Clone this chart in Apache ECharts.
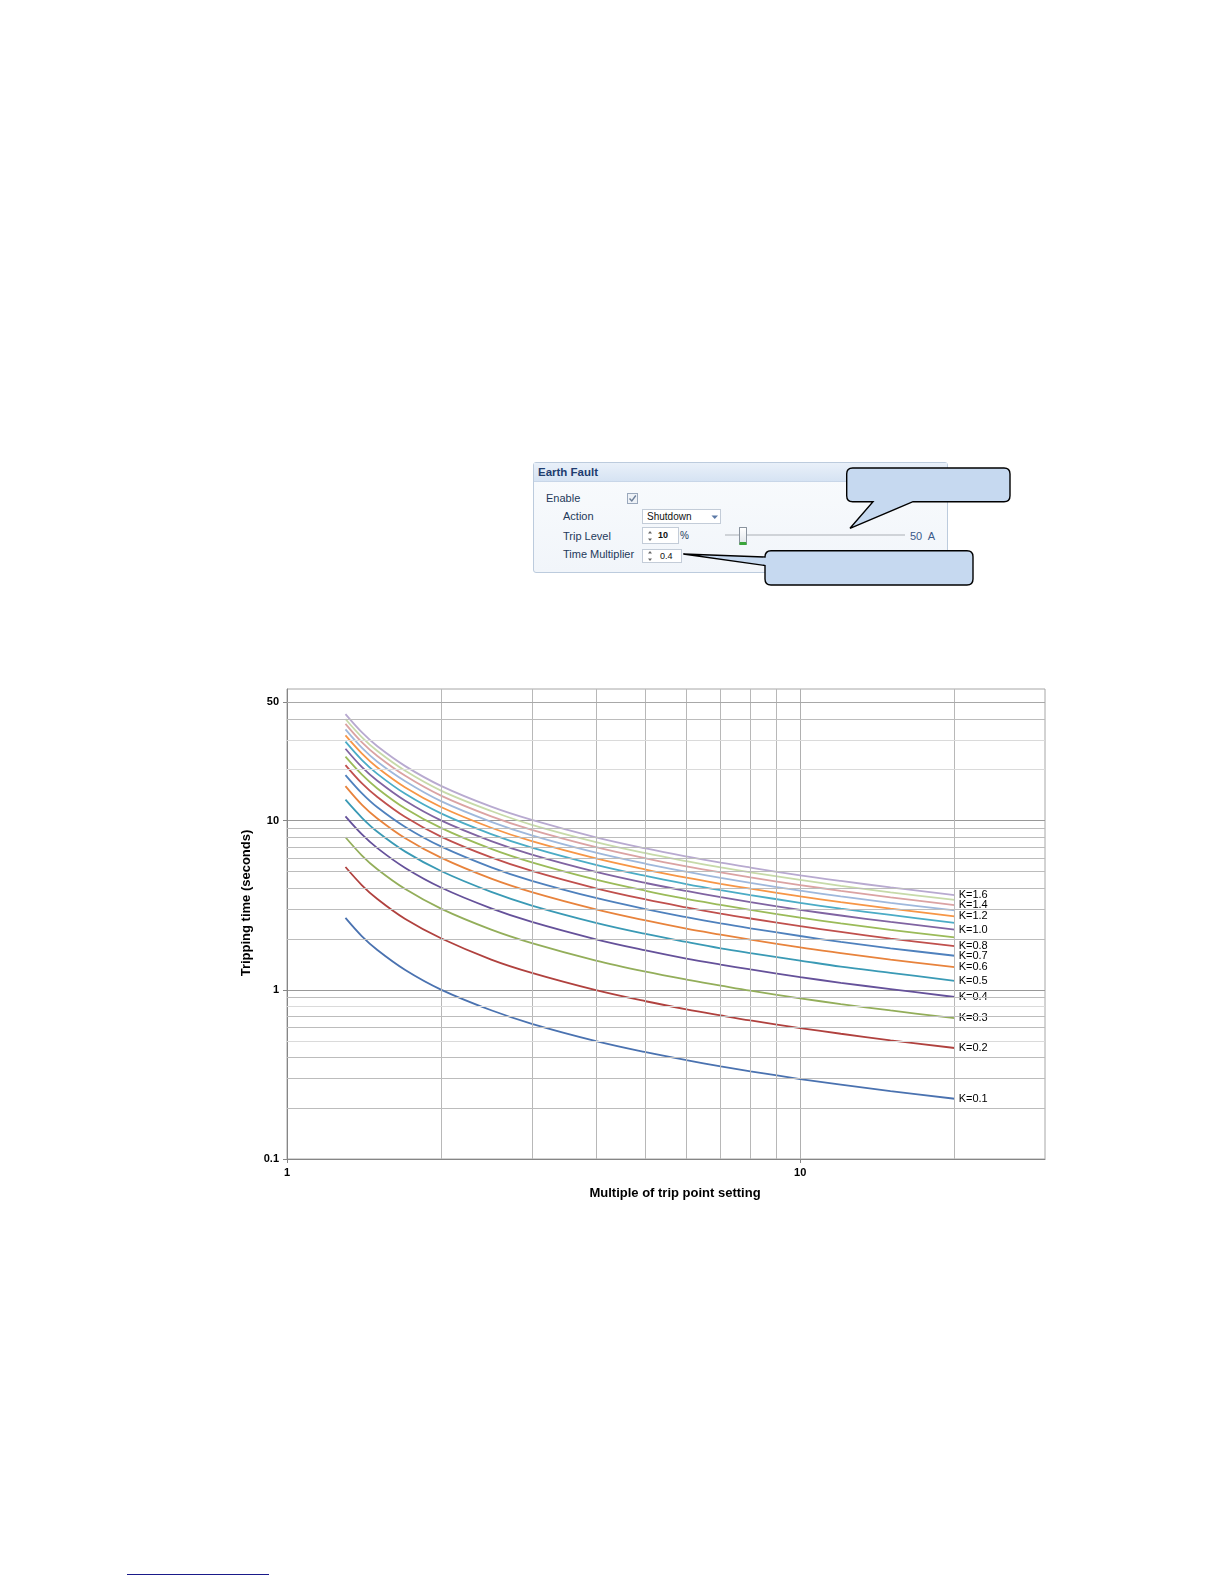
<!DOCTYPE html>
<html>
<head>
<meta charset="utf-8">
<script src="https://cdn.jsdelivr.net/npm/echarts@6/dist/echarts.min.js"></script>
<style>
html, body { margin: 0; padding: 0; background: #fff; }
body { width: 1224px; height: 1584px; position: relative; overflow: hidden; font-family: "Liberation Sans", Arial, sans-serif; }
.abs { position: absolute; }
.panel { left: 533px; top: 462px; width: 413px; height: 109px; border: 1px solid #bccbdd; border-radius: 3px; background: linear-gradient(#f9fbfd, #f1f5fa); }
.hdr { left: 534px; top: 463px; width: 413px; height: 18px; background: linear-gradient(#e9f0f9, #d6e3f3); border-bottom: 1px solid #c8d6e8; }
.hdr span { position: absolute; left: 4px; top: 2px; font-size: 11.5px; font-weight: bold; color: #1f3d6f; line-height: 14px; }
.lbl { font-size: 11px; color: #24395a; line-height: 14px; white-space: nowrap; }
.box { background: #fff; border: 1px solid #c3ccd8; box-sizing: border-box; }
.val { font-size: 9.5px; color: #111; line-height: 12px; }
#chart { left: 220px; top: 670px; width: 860px; height: 540px; }
.link { left: 127px; top: 1574px; width: 142px; height: 0; border-top: 1px solid #1a1a8a; }
</style>
</head>
<body>
<div class="abs panel"></div>
<div class="abs hdr"><span>Earth Fault</span></div>

<div class="abs lbl" style="left:546px; top:491px;">Enable</div>
<div class="abs box" style="left:627px; top:493px; width:11px; height:11px; border-color:#9aa8bc; background:#eef2f7;">
  <svg width="9" height="9" style="position:absolute;left:0;top:0"><path d="M1.5 4.5 L3.8 7 L7.8 1.5" stroke="#6d7f99" stroke-width="1.4" fill="none"/></svg>
</div>

<div class="abs lbl" style="left:563px; top:509px;">Action</div>
<div class="abs box" style="left:642px; top:509px; width:79px; height:15px;"></div>
<div class="abs val" style="left:647px; top:511px; font-size:10px;">Shutdown</div>
<svg class="abs" style="left:711px; top:515px;" width="8" height="5"><path d="M0.5 0.5 L7 0.5 L3.75 4 Z" fill="#5b79a6"/></svg>

<div class="abs lbl" style="left:563px; top:529px;">Trip Level</div>
<div class="abs box" style="left:642px; top:527px; width:37px; height:17px;"></div>
<svg class="abs" style="left:647px; top:530px;" width="6" height="12"><path d="M1 3.5 L3 1 L5 3.5 Z M1 8.5 L3 11 L5 8.5 Z" fill="#666"/></svg>
<div class="abs val" style="left:658px; top:529px; font-weight:bold; font-size:9px;">10</div>
<div class="abs lbl" style="left:680px; top:529px; font-size:10px;">%</div>
<div class="abs" style="left:725px; top:534px; width:180px; height:2px; background:#cfd3d8;"></div>
<div class="abs" style="left:739px; top:527px; width:6px; height:14px; border:1px solid #8a939e; border-radius:1px; background:linear-gradient(#ffffff,#e4e8ec); border-bottom:3px solid #3aa53a;"></div>
<div class="abs lbl" style="left:910px; top:529px; color:#3a5a8a;">50&nbsp; A</div>

<div class="abs lbl" style="left:563px; top:547px;">Time Multiplier</div>
<div class="abs box" style="left:642px; top:549px; width:40px; height:14px;"></div>
<svg class="abs" style="left:647px; top:550px;" width="6" height="12"><path d="M1 3.5 L3 1 L5 3.5 Z M1 8.5 L3 11 L5 8.5 Z" fill="#666"/></svg>
<div class="abs val" style="left:660px; top:550px; font-size:9px;">0.4</div>

<svg class="abs" style="left:0; top:0;" width="1224" height="620">
  <path d="M852.7 468 H1004 Q1010 468 1010 474 V495.7 Q1010 501.7 1004 501.7 H913 L850 528.3 L873 501.7 H852.7 Q846.7 501.7 846.7 495.7 V474 Q846.7 468 852.7 468 Z" fill="#c6d9f0" stroke="#000" stroke-width="1.4"/>
  <path d="M771 550.7 H967 Q973 550.7 973 556.7 V579 Q973 585 967 585 H771 Q765 585 765 579 V565.5 L683.3 554 L765 557 Q765 550.7 771 550.7 Z" fill="#c6d9f0" stroke="#000" stroke-width="1.4"/>
</svg>

<div id="chart" class="abs"></div>
<div class="abs link"></div>

<script>
// multiple of trip point setting (x)
const multiples = [1.3, 1.4, 1.5, 1.7, 2, 2.5, 3, 4, 5, 6, 7, 8, 10, 12, 15, 20];

// tripping time in seconds, one array per time multiplier K
const tK01 = [2.66, 2.07, 1.72, 1.31, 1.00, 0.757, 0.630, 0.498, 0.428, 0.384, 0.353, 0.330, 0.297, 0.275, 0.252, 0.227];
const tK02 = [5.32, 4.15, 3.44, 2.62, 2.01, 1.51, 1.26, 0.996, 0.856, 0.767, 0.706, 0.659, 0.594, 0.550, 0.503, 0.453];
const tK03 = [7.98, 6.22, 5.16, 3.94, 3.01, 2.27, 1.89, 1.49, 1.28, 1.15, 1.06, 0.989, 0.891, 0.824, 0.755, 0.680];
const tK04 = [10.6, 8.29, 6.88, 5.25, 4.01, 3.03, 2.52, 1.99, 1.71, 1.53, 1.41, 1.32, 1.19, 1.10, 1.01, 0.907];
const tK05 = [13.3, 10.4, 8.60, 6.56, 5.02, 3.79, 3.15, 2.49, 2.14, 1.92, 1.76, 1.65, 1.49, 1.37, 1.26, 1.13];
const tK06 = [16.0, 12.4, 10.3, 7.87, 6.02, 4.54, 3.78, 2.99, 2.57, 2.30, 2.12, 1.98, 1.78, 1.65, 1.51, 1.36];
const tK07 = [18.6, 14.5, 12.0, 9.18, 7.02, 5.30, 4.41, 3.49, 3.00, 2.69, 2.47, 2.31, 2.08, 1.92, 1.76, 1.59];
const tK08 = [21.3, 16.6, 13.8, 10.5, 8.02, 6.06, 5.04, 3.98, 3.42, 3.07, 2.82, 2.64, 2.38, 2.20, 2.01, 1.81];
const tK09 = [23.9, 18.7, 15.5, 11.8, 9.03, 6.81, 5.67, 4.48, 3.85, 3.45, 3.18, 2.97, 2.67, 2.47, 2.26, 2.04];
const tK10 = [26.6, 20.7, 17.2, 13.1, 10.0, 7.57, 6.30, 4.98, 4.28, 3.84, 3.53, 3.30, 2.97, 2.75, 2.52, 2.27];
const tK11 = [29.3, 22.8, 18.9, 14.4, 11.0, 8.33, 6.93, 5.48, 4.71, 4.22, 3.88, 3.63, 3.27, 3.02, 2.77, 2.49];
const tK12 = [31.9, 24.9, 20.6, 15.7, 12.0, 9.08, 7.56, 5.98, 5.14, 4.60, 4.23, 3.96, 3.57, 3.30, 3.02, 2.72];
const tK13 = [34.6, 26.9, 22.3, 17.1, 13.0, 9.84, 8.19, 6.47, 5.56, 4.99, 4.59, 4.29, 3.86, 3.57, 3.27, 2.95];
const tK14 = [37.3, 29.0, 24.1, 18.4, 14.0, 10.6, 8.82, 6.97, 5.99, 5.37, 4.94, 4.62, 4.16, 3.85, 3.52, 3.17];
const tK15 = [39.9, 31.1, 25.8, 19.7, 15.0, 11.4, 9.45, 7.47, 6.42, 5.76, 5.29, 4.95, 4.46, 4.12, 3.77, 3.40];
const tK16 = [42.6, 33.2, 27.5, 21.0, 16.0, 12.1, 10.1, 7.97, 6.85, 6.14, 5.64, 5.28, 4.75, 4.40, 4.03, 3.63];

const kNames = ['K=0.1', 'K=0.2', 'K=0.3', 'K=0.4', 'K=0.5', 'K=0.6', 'K=0.7', 'K=0.8',
  'K=0.9', 'K=1.0', 'K=1.1', 'K=1.2', 'K=1.3', 'K=1.4', 'K=1.5', 'K=1.6'];
const kTimes = [tK01, tK02, tK03, tK04, tK05, tK06, tK07, tK08, tK09, tK10, tK11, tK12, tK13, tK14, tK15, tK16];
// only these curves carry a label at their end
const labelled = ['K=0.1', 'K=0.2', 'K=0.3', 'K=0.4', 'K=0.5', 'K=0.6', 'K=0.7', 'K=0.8', 'K=1.0', 'K=1.2', 'K=1.4', 'K=1.6'];

// axis labels and extra gridlines
const xLabels = [1, 10];
const yLabels = [0.1, 1, 10, 50];
const xGridExtra = [2, 3, 4, 5, 6, 7, 8, 9, 20];
const yGridExtra = [0.2, 0.3, 0.4, 0.5, 0.6, 0.7, 0.8, 0.9, 2, 3, 4, 5, 6, 7, 8, 9, 20, 30, 40, 50];

const colors = ['#4a72b0', '#b0413e', '#93ae5a', '#65519a', '#3a9ab5', '#e8833c', '#4f81bd', '#c0504d',
  '#9bbb59', '#8064a2', '#4bacc6', '#f79646', '#9fb8dc', '#dba3a3', '#c7daa9', '#b8aad0'];

const font = 'Liberation Sans, Arial, sans-serif';
const chart = echarts.init(document.getElementById('chart'));

const round = v => +(+v).toPrecision(6);

const lightY = [0.5, 0.8, 20, 30];
const gridLines = [];
xGridExtra.forEach(v => gridLines.push({ xAxis: v, lineStyle: { color: '#b8b8b8' } }));
yGridExtra.forEach(v => {
  gridLines.push({ yAxis: v, lineStyle: { color: lightY.includes(v) ? '#dadada' : (v === 50 ? '#a8a8a8' : '#bcbcbc') } });
});

const series = [{
  type: 'line',
  name: 'grid',
  data: [],
  silent: true,
  z: 1,
  markLine: {
    silent: true,
    symbol: 'none',
    animation: false,
    label: { show: false },
    lineStyle: { type: 'solid', width: 1 },
    data: gridLines
  }
}];

kNames.forEach((name, i) => {
  series.push({
    type: 'line',
    name: name,
    data: multiples.map((m, j) => [m, kTimes[i][j]]),
    showSymbol: false,
    smooth: 0.35,
    z: 3,
    lineStyle: { color: colors[i], width: 1.8 },
    itemStyle: { color: colors[i] },
    endLabel: {
      show: labelled.includes(name),
      formatter: name,
      color: '#000',
      fontSize: 11,
      fontFamily: font,
      distance: 4
    }
  });
});

chart.setOption({
  animation: false,
  textStyle: { fontFamily: font },
  grid: { left: 67, top: 19, width: 758, height: 470, show: true, borderColor: '#a6a6a6', borderWidth: 1 },
  xAxis: {
    type: 'log',
    logBase: 10,
    min: 1,
    max: 30,
    axisLine: { show: true, lineStyle: { color: '#868686' } },
    axisTick: { show: true, length: 4, customValues: xLabels, lineStyle: { color: '#868686' } },
    axisLabel: {
      margin: 8, color: '#000', fontWeight: 'bold', fontSize: 11, customValues: xLabels,
      formatter: v => String(round(v))
    },
    splitLine: { show: true, lineStyle: { color: '#b0b0b0' } }
  },
  yAxis: {
    type: 'log',
    logBase: 10,
    min: 0.1,
    max: 60,
    axisLine: { show: true, lineStyle: { color: '#868686' } },
    axisTick: { show: true, length: 4, customValues: yLabels, lineStyle: { color: '#868686' } },
    axisLabel: {
      margin: 8, color: '#000', fontWeight: 'bold', fontSize: 11, customValues: yLabels,
      formatter: v => String(round(v))
    },
    splitLine: { show: true, lineStyle: { color: '#999999' } }
  },
  graphic: [
    {
      type: 'text', x: 455, y: 523,
      style: { text: 'Multiple of trip point setting', font: 'bold 13px ' + font, fill: '#000', textAlign: 'center', textVerticalAlign: 'middle' }
    },
    {
      type: 'text', x: 26, y: 233, rotation: Math.PI / 2,
      style: { text: 'Tripping time (seconds)', font: 'bold 13px ' + font, fill: '#000', textAlign: 'center', textVerticalAlign: 'middle' }
    }
  ],
  series: series
});
</script>
</body>
</html>
